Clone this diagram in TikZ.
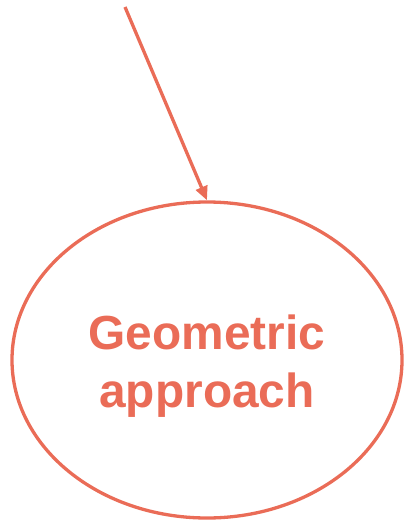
\documentclass[tikz,border=0pt]{standalone}
\usepackage{fontspec}
\setmainfont{Liberation Sans}
\usepackage{tikz}
\usepackage{xcolor}
\usetikzlibrary{arrows.meta, positioning, shapes.geometric}
\definecolor{coral}{RGB}{234,108,87}
\tikzset{
  topic/.style={ellipse, draw=coral, line width=3.3bp,
                minimum width=390bp, minimum height=316bp, inner sep=0pt},
  topictext/.style={text=coral, align=center, inner sep=0pt,
                    font=\fontsize{48}{58}\selectfont\bfseries},
  arr/.style={-{Triangle[length=14bp, width=12bp]}, line width=3.3bp, color=coral},
}

\begin{document}
\begin{tikzpicture}[x=1bp, y=-1bp]
  \useasboundingbox (0,0) rectangle (403,520);
  \coordinate (src) at (125,7);
  \node[topic] (geo) at (207,360) {};
  \node[topictext, below=6bp of geo.center, anchor=center] (geotext) {Geometric\\approach};

  \draw[arr] (src) -- (geo.north);
\end{tikzpicture}
\end{document}
